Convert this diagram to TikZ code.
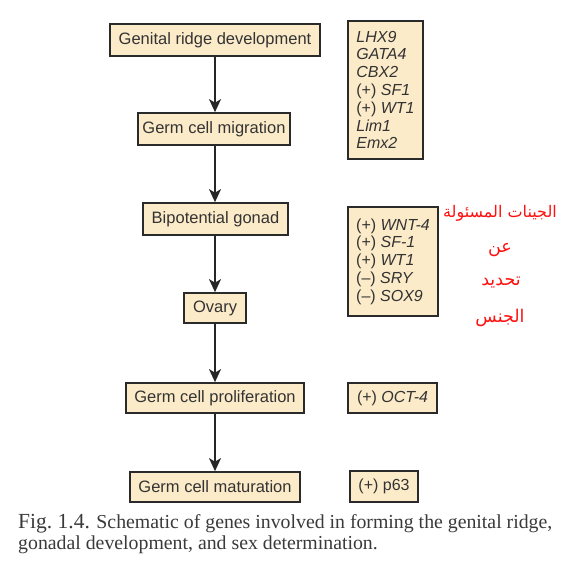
\documentclass[tikz,border=0pt]{standalone}
\usepackage{fontspec}
\setmainfont{Liberation Serif}
\newfontfamily\boxfont{Liberation Sans}
\newfontfamily\arabicfont[Script=Arabic]{DejaVu Sans}
\TeXXeTstate=1
\usetikzlibrary{arrows.meta}
\definecolor{boxfill}{HTML}{FCEBC9}
\definecolor{boxline}{HTML}{2A2A2A}
\definecolor{txt}{HTML}{333333}
\definecolor{capt}{HTML}{3A3A3A}
\definecolor{arred}{HTML}{FF1010}
\tikzset{
  stagebox/.style={draw=boxline, fill=boxfill, line width=1.7pt, inner sep=0pt,
    font=\boxfont\fontsize{16.5}{18}\selectfont, text=txt},
  genebox/.style={stagebox, align=left, font=\boxfont\fontsize{16}{17.8}\selectfont},
  flow/.style={line width=1.5pt, draw=black!85, -{Stealth[length=13pt,width=12pt,inset=3.5pt]}},
  arabic/.style={text=arred, font=\arabicfont\fontsize{17.5}{20}\selectfont},
  captline/.style={anchor=base west, text=capt, inner sep=0pt, font=\fontsize{19.8}{21}\selectfont},
}
\begin{document}
\begin{tikzpicture}[x=1pt,y=-1pt]
\useasboundingbox (0,0) rectangle (572,580);
\fill[white] (0,0) rectangle (572,580);
% stage boxes
\node[stagebox, minimum width=210pt, minimum height=32pt] (genital) at (215,40) {Genital ridge development};
\node[stagebox, minimum width=152pt, minimum height=32pt] (migration) at (214,129) {Germ cell migration};
\node[stagebox, minimum width=145pt, minimum height=32pt] (bipot) at (215.5,219) {Bipotential gonad};
\node[stagebox, minimum width=62pt, minimum height=30pt] (ovary) at (215,308) {Ovary};
\node[stagebox, minimum width=178pt, minimum height=30pt] (prolif) at (215,398) {Germ cell proliferation};
\node[stagebox, minimum width=170pt, minimum height=30pt] (matur) at (215,487) {Germ cell maturation};
% gene boxes
\node[genebox, minimum width=75pt, minimum height=138pt] (g1) at (385.5,90)
  {\textit{LHX9}\\\textit{GATA4}\\\textit{CBX2}\\(+) \textit{SF1}\\(+) \textit{WT1}\\\textit{Lim1}\\\textit{Emx2}};
\node[genebox, minimum width=90pt, minimum height=109pt] (g2) at (393,261.5)
  {(+) \textit{WNT-4}\\(+) \textit{SF-1}\\(+) \textit{WT1}\\(\textendash) \textit{SRY}\\(\textendash) \textit{SOX9}};
\node[genebox, minimum width=89pt, minimum height=30pt] (g3) at (392.5,398) {(+) \textit{OCT-4}};
\node[genebox, minimum width=68pt, minimum height=31pt] (g4) at (384,486.5) {(+) p63};
% arrows
\draw[flow] (genital.south) -- (genital.south |- migration.north);
\draw[flow] (migration.south -| genital.south) -- (bipot.north -| genital.south);
\draw[flow] (bipot.south -| genital.south) -- (ovary.north -| genital.south);
\draw[flow] (ovary.south -| genital.south) -- (prolif.north -| genital.south);
\draw[flow] (prolif.south -| genital.south) -- (matur.north -| genital.south);
% arabic annotation
\node[arabic, font=\arabicfont\fontsize{16}{20}\selectfont] (ar1) at (500,213) {\beginR الجينات المسئولة\endR};
\node[arabic] (ar2) at (500,250) {\beginR عن\endR};
\node[arabic] (ar3) at (501,283) {\beginR تحديد\endR};
\node[arabic] (ar4) at (500,318) {\beginR الجنس\endR};
% caption
\node[captline] (cap1) at (18,528)
  {{\fontsize{21.5}{21}\selectfont Fig.\ 1.4.} Schematic of genes involved in forming the genital ridge,};
\node[captline] (cap2) at (18,549) {gonadal development, and sex determination.};
\end{tikzpicture}
\end{document}
